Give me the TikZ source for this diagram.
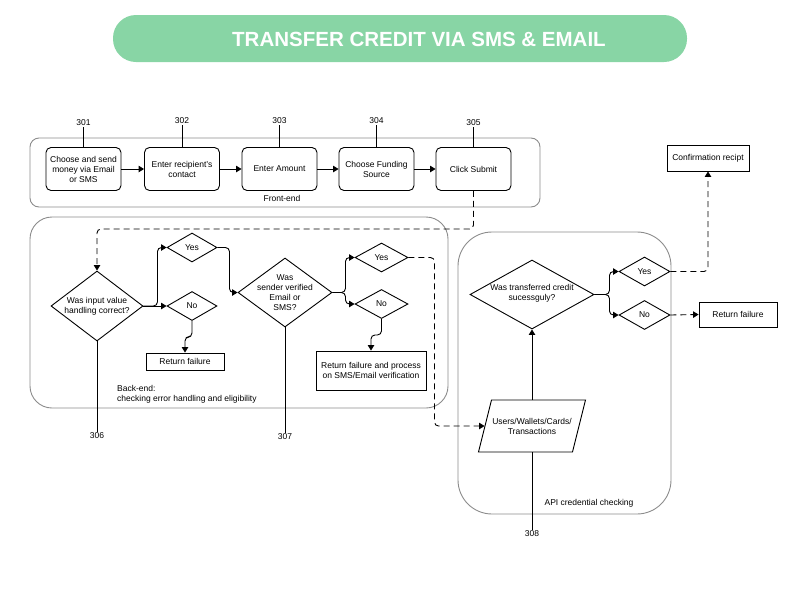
\documentclass[tikz,border=0pt]{standalone}
\usepackage{fontspec}
\setmainfont{Liberation Sans}
\usetikzlibrary{arrows.meta,shapes.geometric,calc}
\definecolor{titlegreen}{HTML}{88D5A5}
\definecolor{framegray}{HTML}{8C8C8C}
\begin{document}
\begin{tikzpicture}[x=1pt,y=-1pt,
 lbl/.style={font=\fontsize{8.5}{10}\selectfont, align=center, inner sep=1pt},
 stepbox/.style={draw, rounded corners=5pt, line width=0.9pt, minimum width=75pt, minimum height=43pt, lbl},
 plainbox/.style={draw, line width=0.9pt, lbl},
 container/.style={draw=framegray, line width=0.9pt, inner sep=0pt},
 dia/.style={draw, diamond, inner sep=0pt, line width=0.9pt},
 link/.style={line width=0.9pt},
 arr/.style={-{Triangle[length=5.5pt,width=6.5pt]}, line width=0.9pt, rounded corners=4pt},
 darr/.style={arr, dash pattern=on 6pt off 4pt},
 num/.style={lbl}]
\useasboundingbox (0,0) rectangle (800,600);

% title
\node[fill=titlegreen, rounded corners=23pt, minimum width=574pt, minimum height=47pt, inner sep=0pt] (titlebar) at (400,38.5) {};
\node[text=white, font=\fontsize{20.5}{24}\selectfont\bfseries, inner sep=0pt] (title) at (419,39.5) {TRANSFER CREDIT VIA SMS \& EMAIL};

% containers
\node[container, rounded corners=9pt, minimum width=510pt, minimum height=69pt] (fe) at (285,172.5) {};
\node[container, rounded corners=22pt, minimum width=418pt, minimum height=191pt] (be) at (239,312.5) {};
\node[container, rounded corners=34pt, minimum width=213pt, minimum height=282pt] (api) at (564.5,373) {};
\node[lbl] (felbl) at (282,198) {Front-end};
\node[lbl, align=left, anchor=west] (belbl) at (116,394) {Back-end:\\checking error handling and eligibility};
\node[lbl] (apilbl) at (589,503) {API credential checking};

% front-end steps
\node[stepbox] (b301) at (83.5,169) {Choose and send\\money via Email\\or SMS};
\node[stepbox] (b302) at (182,169) {Enter recipient's\\contact};
\node[stepbox] (b303) at (279.5,169) {Enter Amount};
\node[stepbox] (b304) at (376.5,169) {Choose Funding\\Source};
\node[stepbox] (b305) at (473.5,169) {Click Submit};
\node[num] (n301) at (83.5,123) {301};
\node[num] (n302) at (182,121) {302};
\node[num] (n303) at (279.5,121) {303};
\node[num] (n304) at (376.5,121) {304};
\node[num] (n305) at (473.5,123) {305};
\foreach \i in {301,302,303,304,305} \draw[link] (n\i) -- (b\i);
\draw[arr] (b301) -- (b302);
\draw[arr] (b302) -- (b303);
\draw[arr] (b303) -- (b304);
\draw[arr] (b304) -- (b305);

% back-end
\node[dia, minimum width=92pt, minimum height=70pt] (d1) at (97,306) {};
\node[lbl] (d1t) at (d1) {Was input value\\handling correct?};
\node[dia, minimum width=50pt, minimum height=29pt] (y1) at (192,247.5) {};
\node[lbl] (y1t) at (y1) {Yes};
\node[dia, minimum width=50pt, minimum height=29pt] (no1) at (192,306) {};
\node[lbl] (no1t) at (no1) {No};
\node[plainbox, minimum width=78pt, minimum height=17pt] (rf1) at (185,361.5) {Return failure};

\node[dia, minimum width=94pt, minimum height=69pt] (d2) at (285,292.5) {};
\node[lbl] (d2t) at (d2) {Was\\sender verified\\Email or\\SMS?};
\node[dia, minimum width=53pt, minimum height=29pt] (y2) at (381.5,257.5) {};
\node[lbl] (y2t) at (y2) {Yes};
\node[dia, minimum width=53pt, minimum height=29pt] (no2) at (381.5,304) {};
\node[lbl] (no2t) at (no2) {No};
\node[plainbox, minimum width=110pt, minimum height=39pt] (rf2) at (371,370.5) {Return failure and process\\on SMS/Email verification};

\node[num] (n306) at (97,436) {306};
\node[num] (n307) at (285,437) {307};
\draw[link] (d1.south) -- (n306.north);
\draw[link] (d2.south) -- (n307.north);

\draw[darr] (b305.south) -- ++(0,38) -| (d1.north);
\draw[arr] (d1.east) -- ++(14,0) |- (y1.west);
\draw[arr] (d1.east) -- (no1.west);
\draw[arr] (no1.south) -- ++(0,16) -| (rf1.north);
\draw[arr] (y1.east) -- ++(12,0) |- (d2.west);
\draw[arr] (d2.east) -- ++(13,0) |- (y2.west);
\draw[arr] (d2.east) -- ++(13,0) |- (no2.west);
\draw[arr] (no2.south) -- ++(0,16) -| (rf2.north);

% API part
\node[draw, line width=0.9pt, xslant=0.25, minimum width=94pt, minimum height=52pt, inner sep=0pt] (db) at (532,426) {};
\node[lbl] (dbt) at (db.center) {Users/Wallets/Cards/\\Transactions};
\node[dia, minimum width=124pt, minimum height=69pt] (d3) at (532,294.5) {};
\node[lbl] (d3t) at (532,293.5) {Was transferred credit\\sucessguly?};
\node[dia, minimum width=51pt, minimum height=29pt] (y3) at (644.5,271.5) {};
\node[lbl] (y3t) at (y3) {Yes};
\node[dia, minimum width=51pt, minimum height=29pt] (no3) at (644.5,315) {};
\node[lbl] (no3t) at (no3) {No};
\node[plainbox, minimum width=82pt, minimum height=26pt] (conf) at (708,158) {Confirmation recipt};
\node[plainbox, minimum width=78pt, minimum height=25pt] (rf3) at (738,314.5) {Return failure};
\node[num] (n308) at (532,534) {308};

\draw[darr] (y2.east) -- ++(26,0) |- (db.west);
\draw[arr] (db.center |- db.north) -- (d3.south);
\draw[link] (db.center |- db.south) -- (n308.north);
\draw[arr] (d3.east) -- ++(15,0) |- (y3.west);
\draw[arr] (d3.east) -- ++(15,0) |- (no3.west);
\draw[darr] (y3.east) -| (conf.south);
\draw[darr] (no3.east) -- (rf3.west);
\end{tikzpicture}
\end{document}
